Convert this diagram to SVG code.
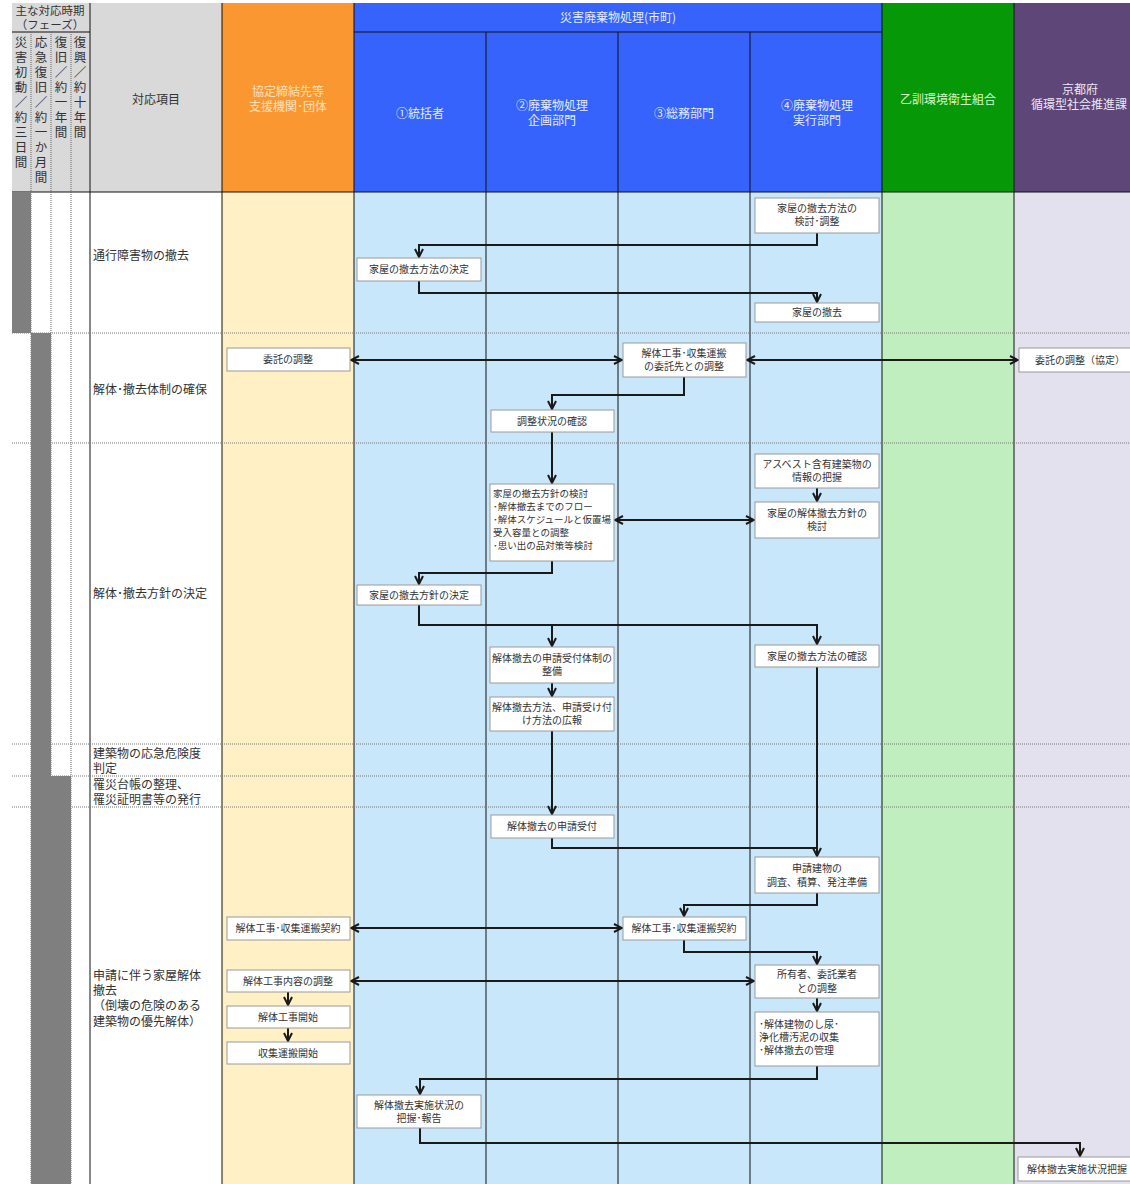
<svg xmlns="http://www.w3.org/2000/svg" width="1130" height="1184" viewBox="0 0 1130 1184">
<style>
text{font-family:"Noto Sans CJK JP","Noto Sans",sans-serif}
.h{font-size:12px;text-anchor:middle}
.n rect{fill:#fff;stroke:#9a9a9a;stroke-width:1}
.n text{font-size:10px;fill:#333;text-anchor:middle}
.n text.l{text-anchor:start}
.n text.s{font-size:9.5px}
.r{font-size:12px;fill:#333}
.v{font-size:11.5px;fill:#333;text-anchor:middle}
.vt{font-size:12.5px;fill:#333;writing-mode:vertical-rl;text-orientation:upright;letter-spacing:2.5px}
.sep{stroke:#777;stroke-width:1;stroke-dasharray:1 1}
.ln{stroke:#111;stroke-width:1}
.dl{stroke:#666;stroke-width:1;stroke-dasharray:1 1}
#conn path{fill:none;stroke:#1a1a1a;stroke-width:2}
</style>
<defs>
<marker id="a" viewBox="0 0 10 10" refX="9" refY="5" markerWidth="5" markerHeight="5" orient="auto-start-reverse" markerUnits="strokeWidth">
<path d="M1,1 L9,5 L1,9" fill="none" stroke="#1a1a1a" stroke-width="2"/>
</marker>
</defs>
<rect width="1130" height="1184" fill="#fff"/>
<!-- lanes -->
<rect x="222" y="192" width="132" height="992" fill="#fff1c5"/>
<rect x="354" y="192" width="528" height="992" fill="#c9e7fb"/>
<rect x="882" y="192" width="132" height="992" fill="#c1eebf"/>
<rect x="1014" y="192" width="116" height="992" fill="#e4e1ee"/>
<!-- headers -->
<rect x="12" y="3" width="210" height="189" fill="#d9d9d9"/>
<rect x="222" y="3" width="132" height="189" fill="#fb9731"/>
<rect x="354" y="3" width="528" height="189" fill="#3563fb"/>
<rect x="882" y="3" width="132" height="189" fill="#069806"/>
<rect x="1014" y="3" width="116" height="189" fill="#5e4678"/>
<!-- grid lines -->
<g>
<line class="ln" x1="12" y1="32" x2="90" y2="32"/>
<line class="ln" x1="354" y1="32" x2="882" y2="32"/>
<line class="ln" x1="12" y1="192" x2="1130" y2="192"/>
<line class="dl" x1="31" y1="32" x2="31" y2="1184"/>
<line class="dl" x1="51" y1="32" x2="51" y2="1184"/>
<line class="dl" x1="71" y1="32" x2="71" y2="1184"/>
<line class="ln" x1="90" y1="3" x2="90" y2="1184"/>
<line class="ln" x1="222" y1="3" x2="222" y2="1184"/>
<line class="ln" x1="354" y1="3" x2="354" y2="1184"/>
<line class="ln" x1="486" y1="32" x2="486" y2="1184"/>
<line class="ln" x1="618" y1="32" x2="618" y2="1184"/>
<line class="ln" x1="750" y1="32" x2="750" y2="1184"/>
<line class="ln" x1="882" y1="3" x2="882" y2="1184"/>
<line class="ln" x1="1014" y1="3" x2="1014" y2="1184"/>
<line class="sep" x1="12" y1="333" x2="1130" y2="333"/>
<line class="sep" x1="12" y1="443" x2="1130" y2="443"/>
<line class="sep" x1="12" y1="744" x2="1130" y2="744"/>
<line class="sep" x1="12" y1="776" x2="1130" y2="776"/>
<line class="sep" x1="12" y1="807" x2="1130" y2="807"/>
</g>
<!-- phase bars -->
<rect x="12" y="192" width="19" height="141" fill="#7f7f7f"/>
<rect x="31" y="333" width="20" height="851" fill="#7f7f7f"/>
<rect x="51" y="776" width="20" height="408" fill="#7f7f7f"/>
<!-- header texts -->
<g>
<text class="v"><tspan x="50" y="15">主な対応時期</tspan><tspan x="50" y="29">（フェーズ）</tspan></text>
<text class="vt" x="21" y="36">災害初動／約三日間</text>
<text class="vt" x="41" y="36">応急復旧／約一か月間</text>
<text class="vt" x="61" y="36">復旧／約一年間</text>
<text class="vt" x="80" y="36">復興／約十年間</text>
<text class="h" x="156" y="104" fill="#333">対応項目</text>
<text class="h" fill="#fde2c2"><tspan x="288" y="96">協定締結先等</tspan><tspan x="288" y="111">支援機関･団体</tspan></text>
<text class="h" x="618" y="22" fill="#e6ecff">災害廃棄物処理(市町)</text>
<text class="h" x="420" y="118" fill="#e6ecff">①統括者</text>
<text class="h" fill="#e6ecff"><tspan x="552" y="110">②廃棄物処理</tspan><tspan x="552" y="125">企画部門</tspan></text>
<text class="h" x="684" y="118" fill="#e6ecff">③総務部門</text>
<text class="h" fill="#e6ecff"><tspan x="817" y="110">④廃棄物処理</tspan><tspan x="817" y="125">実行部門</tspan></text>
<text class="h" x="948" y="104" fill="#d6f5c8">乙訓環境衛生組合</text>
<text font-size="12" fill="#ece6f4"><tspan x="1062" y="94">京都府</tspan><tspan x="1031" y="109">循環型社会推進課</tspan></text>
</g>
<!-- row labels -->
<g class="r">
<text x="93" y="260">通行障害物の撤去</text>
<text x="93" y="394">解体･撤去体制の確保</text>
<text x="93" y="598">解体･撤去方針の決定</text>
<text><tspan x="93" y="758">建築物の応急危険度</tspan><tspan x="93" y="773">判定</tspan></text>
<text><tspan x="93" y="789">罹災台帳の整理、</tspan><tspan x="93" y="804">罹災証明書等の発行</tspan></text>
<text><tspan x="93" y="980">申請に伴う家屋解体</tspan><tspan x="93" y="995">撤去</tspan><tspan x="93" y="1010">（倒壊の危険のある</tspan><tspan x="93" y="1026">建築物の優先解体）</tspan></text>
</g>
<!-- connectors -->
<g id="conn">
<path d="M817,233 V245 H419 V257" marker-end="url(#a)"/>
<path d="M419,281 V293 H817 V302" marker-end="url(#a)"/>
<path d="M351,360 H622" marker-start="url(#a)" marker-end="url(#a)"/>
<path d="M747,360 H1018" marker-start="url(#a)" marker-end="url(#a)"/>
<path d="M684,377 V395 H552 V409" marker-end="url(#a)"/>
<path d="M552,432 V483" marker-end="url(#a)"/>
<path d="M817,488 V501" marker-end="url(#a)"/>
<path d="M615,520 H754" marker-start="url(#a)" marker-end="url(#a)"/>
<path d="M552,561 V573 H419 V584" marker-end="url(#a)"/>
<path d="M419,605 V625 H817 V644" marker-end="url(#a)"/>
<path d="M552,625 V646" marker-end="url(#a)"/>
<path d="M552,683 V696" marker-end="url(#a)"/>
<path d="M552,731 V814" marker-end="url(#a)"/>
<path d="M817,667 V856" marker-end="url(#a)"/>
<path d="M552,838 V848 H817"/>
<path d="M817,893 V905 H684 V916" marker-end="url(#a)"/>
<path d="M351,928 H622" marker-start="url(#a)" marker-end="url(#a)"/>
<path d="M684,940 V952 H817 V964" marker-end="url(#a)"/>
<path d="M351,981 H754" marker-start="url(#a)" marker-end="url(#a)"/>
<path d="M288,992 V1005" marker-end="url(#a)"/>
<path d="M288,1028 V1041" marker-end="url(#a)"/>
<path d="M817,998 V1011" marker-end="url(#a)"/>
<path d="M817,1066 V1079 H420 V1094" marker-end="url(#a)"/>
<path d="M420,1128 V1143 H1080 V1156" marker-end="url(#a)"/>
</g>
<!-- nodes -->
<g id="n1" class="n"><rect x="755" y="198" width="124" height="35"/><text><tspan x="817" y="212">家屋の撤去方法の</tspan><tspan x="817" y="225">検討･調整</tspan></text></g>
<g id="n2" class="n"><rect x="357" y="258" width="124" height="23"/><text x="419" y="273">家屋の撤去方法の決定</text></g>
<g id="n3" class="n"><rect x="755" y="303" width="124" height="19"/><text x="817" y="316">家屋の撤去</text></g>
<g id="n4" class="n"><rect x="227" y="348" width="123" height="23"/><text x="288" y="363">委託の調整</text></g>
<g id="n5" class="n"><rect x="623" y="343" width="123" height="34"/><text><tspan x="684" y="357">解体工事･収集運搬</tspan><tspan x="684" y="370">の委託先との調整</tspan></text></g>
<g id="n6" class="n"><rect x="1019" y="348" width="118" height="24"/><text x="1080" y="364">委託の調整（協定）</text></g>
<g id="n7" class="n"><rect x="491" y="410" width="123" height="22"/><text x="552" y="425">調整状況の確認</text></g>
<g id="n8" class="n"><rect x="490" y="484" width="124" height="77"/><text class="l s"><tspan x="493" y="497">家屋の撤去方針の検討</tspan><tspan x="493" y="510">･解体撤去までのフロー</tspan><tspan x="493" y="523">･解体スケジュールと仮置場</tspan><tspan x="493" y="536">受入容量との調整</tspan><tspan x="493" y="549">･思い出の品対策等検討</tspan></text></g>
<g id="n9" class="n"><rect x="755" y="454" width="124" height="34"/><text><tspan x="817" y="468">アスベスト含有建築物の</tspan><tspan x="817" y="481">情報の把握</tspan></text></g>
<g id="n10" class="n"><rect x="755" y="502" width="124" height="36"/><text><tspan x="817" y="517">家屋の解体撤去方針の</tspan><tspan x="817" y="530">検討</tspan></text></g>
<g id="n11" class="n"><rect x="357" y="585" width="124" height="20"/><text x="419" y="599">家屋の撤去方針の決定</text></g>
<g id="n12" class="n"><rect x="490" y="647" width="124" height="36"/><text><tspan x="552" y="662">解体撤去の申請受付体制の</tspan><tspan x="552" y="675">整備</tspan></text></g>
<g id="n13" class="n"><rect x="490" y="697" width="124" height="34"/><text><tspan x="552" y="711">解体撤去方法、申請受け付</tspan><tspan x="552" y="724">け方法の広報</tspan></text></g>
<g id="n14" class="n"><rect x="755" y="645" width="124" height="22"/><text x="817" y="660">家屋の撤去方法の確認</text></g>
<g id="n15" class="n"><rect x="491" y="815" width="123" height="23"/><text x="552" y="830">解体撤去の申請受付</text></g>
<g id="n16" class="n"><rect x="755" y="857" width="124" height="36"/><text><tspan x="817" y="872">申請建物の</tspan><tspan x="817" y="886">調査、積算、発注準備</tspan></text></g>
<g id="n17" class="n"><rect x="623" y="917" width="123" height="23"/><text x="684" y="932">解体工事･収集運搬契約</text></g>
<g id="n18" class="n"><rect x="227" y="917" width="123" height="23"/><text x="288" y="932">解体工事･収集運搬契約</text></g>
<g id="n19" class="n"><rect x="755" y="965" width="124" height="33"/><text><tspan x="817" y="978">所有者、委託業者</tspan><tspan x="817" y="992">との調整</tspan></text></g>
<g id="n20" class="n"><rect x="227" y="970" width="123" height="22"/><text x="288" y="985">解体工事内容の調整</text></g>
<g id="n21" class="n"><rect x="227" y="1006" width="123" height="22"/><text x="288" y="1021">解体工事開始</text></g>
<g id="n22" class="n"><rect x="227" y="1042" width="123" height="22"/><text x="288" y="1057">収集運搬開始</text></g>
<g id="n23" class="n"><rect x="755" y="1012" width="124" height="54"/><text class="l"><tspan x="759" y="1028">･解体建物のし尿･</tspan><tspan x="759" y="1041">浄化槽汚泥の収集</tspan><tspan x="759" y="1054">･解体撤去の管理</tspan></text></g>
<g id="n24" class="n"><rect x="357" y="1095" width="124" height="33"/><text><tspan x="419" y="1109">解体撤去実施状況の</tspan><tspan x="419" y="1122">把握･報告</tspan></text></g>
<g id="n25" class="n"><rect x="1018" y="1157" width="124" height="24"/><text class="l" x="1027" y="1173">解体撤去実施状況把握</text></g>
</svg>
